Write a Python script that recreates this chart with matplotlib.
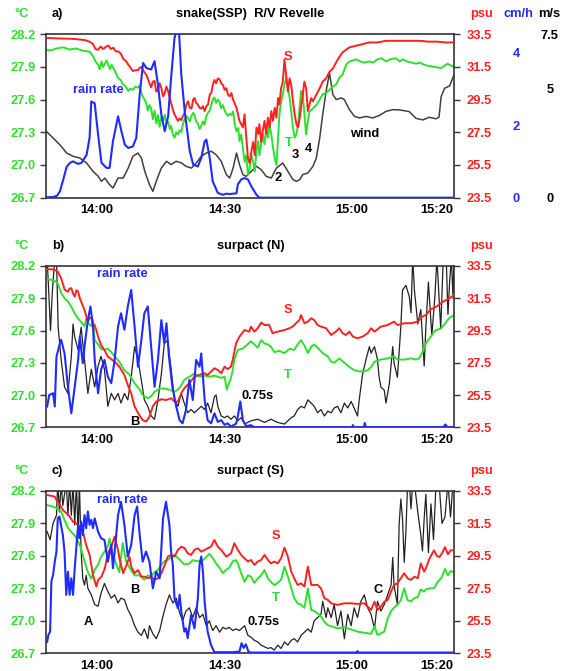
import matplotlib.pyplot as plt

plt.rcParams['font.family'] = ['Liberation Sans', 'DejaVu Sans']
plt.rcParams['font.weight'] = 'bold'
plt.rcParams['font.size'] = 9.3

# time axis in minutes after 13:00
tick_pos = [60, 90, 120, 140]
tick_lab = ["14:00", "14:30", "15:00", "15:20"]
hour_pos = [60, 120]

# ---------------- a) snake (SSP), R/V Revelle ----------------
a_T_t = [48.0, 49.0, 50.4, 52.0, 53.5, 55.0, 56.5, 58.2, 59.0, 59.6, 60.2, 60.6, 61.0, 61.4, 61.8,
         62.2, 62.6, 63.0, 63.4, 63.8, 64.2, 64.9, 65.5, 66.1, 66.7, 67.3, 67.8, 68.4, 69.0, 69.6,
         70.0, 70.4, 70.8, 71.2, 71.6, 71.9, 72.3, 72.7, 73.1, 73.5, 73.9, 74.3, 74.7, 75.1, 75.5,
         75.9, 76.3, 76.7, 77.1, 77.4, 77.8, 78.2, 78.6, 79.0, 79.4, 79.8, 80.2, 80.6, 81.0, 81.4,
         81.8, 82.2, 82.6, 82.9, 83.3, 83.7, 84.1, 84.5, 84.9, 85.3, 85.7, 86.1, 86.5, 86.9, 87.2,
         87.6, 88.0, 88.4, 88.8, 89.2, 89.6, 90.0, 90.4, 90.8, 91.2, 91.6, 92.0, 92.4, 92.8, 93.2,
         93.5, 93.9, 94.3, 94.7, 95.1, 95.5, 95.9, 96.3, 96.7, 97.1, 97.5, 97.9, 98.2, 98.6, 99.0,
         99.4, 99.8, 100.2, 100.6, 101.0, 101.4, 101.8, 102.2, 102.6, 102.9, 103.3, 103.7, 104.1,
         104.5, 104.9, 105.3, 105.7, 106.1, 106.5, 106.9, 107.3, 107.7, 108.0, 108.4, 108.8, 109.2,
         109.6, 110.0, 110.8, 111.6, 112.4, 113.1, 113.9, 114.7, 115.5, 116.3, 117.0, 117.8, 118.6,
         119.4, 120.2, 121.0, 122.0, 123.0, 124.1, 125.0, 126.0, 127.0, 128.0, 129.0, 130.4, 131.2,
         132.0, 133.0, 134.0, 135.1, 136.0, 137.0, 138.0, 139.5, 141.0, 142.5, 144.0]
a_T = [28.06, 28.05, 28.07, 28.08, 28.06, 28.07, 28.05, 28.04, 28.00, 27.95, 27.92, 27.88, 27.95, 27.90, 27.93,
       27.96, 27.92, 27.88, 27.92, 27.89, 27.86, 27.80, 27.78, 27.74, 27.72, 27.68, 27.70, 27.69, 27.72, 27.71,
       27.73, 27.66, 27.62, 27.60, 27.56, 27.50, 27.55, 27.52, 27.42, 27.50, 27.38, 27.46, 27.35, 27.44, 27.40,
       27.46, 27.38, 27.40, 27.33, 27.36, 27.28, 27.25, 27.30, 27.28, 27.32, 27.30, 27.38, 27.42, 27.45, 27.43,
       27.40, 27.45, 27.48, 27.46, 27.40, 27.38, 27.33, 27.36, 27.40, 27.37, 27.45, 27.48, 27.50, 27.56, 27.60,
       27.62, 27.57, 27.60, 27.58, 27.52, 27.55, 27.50, 27.47, 27.45, 27.47, 27.46, 27.49, 27.37, 27.31, 27.34,
       27.22, 27.28, 27.16, 27.03, 27.09, 26.91, 26.97, 27.09, 27.03, 26.94, 27.13, 27.22, 27.09, 27.19, 27.28,
       27.19, 27.34, 27.25, 27.37, 27.28, 27.16, 27.06, 27.00, 27.25, 27.46, 27.58, 27.65, 27.74,
       27.80, 27.71, 27.62, 27.49, 27.34, 27.25, 27.28, 27.37, 27.55, 27.68, 27.65, 27.46, 27.28,
       27.40, 27.49, 27.52, 27.55, 27.60, 27.65, 27.66, 27.69, 27.72, 27.74, 27.80, 27.83, 27.92,
       27.95, 27.96, 27.97, 27.95, 27.94, 27.95, 27.94, 27.97, 27.98, 27.95, 27.97, 27.98, 27.95,
       27.97, 27.95, 27.94, 27.93, 27.94, 27.92, 27.91, 27.90, 27.89, 27.93, 27.90]

a_S_t = [48.0, 50.4, 54.3, 57.0, 58.2, 59.0, 59.6, 60.2, 60.8, 61.4, 62.0, 62.6, 63.2, 63.8, 64.4,
         65.0, 65.6, 66.1, 66.8, 67.3, 68.0, 68.4, 69.0, 69.6, 70.0, 70.4, 70.8, 71.2, 71.6, 71.9,
         72.3, 72.7, 73.1, 73.5, 73.9, 74.3, 74.7, 75.1, 75.5, 75.9, 76.3, 76.7, 77.1, 77.4, 77.8,
         78.2, 78.6, 79.0, 79.4, 79.8, 80.2, 80.6, 81.0, 81.4, 81.8, 82.2, 82.6, 82.9, 83.3, 83.7,
         84.1, 84.5, 84.9, 85.3, 85.7, 86.1, 86.5, 86.9, 87.2, 87.6, 88.0, 88.4, 88.8, 89.2, 89.6,
         90.0, 90.4, 90.8, 91.2, 91.6, 92.0, 92.8, 93.5, 94.3, 94.7, 95.1, 95.5, 95.9, 96.3, 96.7,
         97.1, 97.5, 97.9, 98.2, 98.6, 99.0, 99.4, 99.8, 100.2, 100.6, 101.0, 101.4, 101.8, 102.2,
         102.6, 102.9, 103.3, 103.7, 104.1, 104.5, 104.9, 105.3, 105.7, 106.1, 106.5, 106.9, 107.3,
         107.7, 108.0, 108.4, 108.8, 109.2, 109.6, 110.0, 110.4, 110.8, 111.6, 112.4, 113.1, 113.9,
         114.7, 115.5, 116.3, 117.0, 117.8, 119.4, 121.0, 122.6, 124.1, 126.0, 128.0, 130.0, 132.0,
         134.0, 136.0, 138.0, 140.0, 142.0, 144.0]
a_S = [33.28, 33.25, 33.22, 33.15, 33.05, 32.90, 32.60, 32.55, 32.75, 32.60, 32.72, 32.82, 32.60, 32.68, 32.45,
       32.45, 32.30, 32.00, 31.85, 31.65, 31.40, 31.25, 31.30, 31.30, 31.45, 31.50, 31.30, 31.15, 31.00, 30.80,
       30.50, 30.25, 30.60, 30.65, 30.00, 30.10, 30.50, 30.20, 29.70, 29.90, 30.30, 30.00, 29.60, 29.30, 28.90,
       28.60, 28.40, 28.20, 28.35, 28.25, 28.50, 28.70, 29.20, 29.40, 29.00, 28.95, 29.50, 29.60, 29.30, 29.20,
       29.00, 28.95, 29.10, 28.80, 29.10, 29.20, 29.80, 29.95, 30.40, 30.70, 30.50, 30.80, 30.75, 30.50, 30.40,
       30.10, 30.20, 29.80, 29.70, 29.90, 29.50, 29.00, 28.20, 27.80, 28.60, 27.20, 25.90, 25.60, 26.30, 26.90,
       26.10, 27.80, 27.40, 28.00, 26.90, 27.60, 28.20, 27.40, 28.40, 27.80, 28.80, 28.20, 29.00, 28.40,
       29.60, 29.20, 30.20, 30.60, 31.95, 31.00, 30.00, 30.80, 30.40, 29.40, 28.60, 28.00, 27.80,
       28.40, 29.00, 29.80, 30.60, 30.20, 28.80, 29.20, 29.60, 29.40, 29.80, 30.20, 30.60, 30.80,
       31.20, 31.40, 31.80, 32.10, 32.40, 32.70, 32.80, 32.90, 33.00, 33.00, 33.10, 33.10, 33.10,
       33.10, 33.10, 33.05, 33.05, 33.00, 33.00]

a_rain_t = [48.0, 49.6, 50.5, 51.2, 52.0, 52.8, 53.6, 54.3, 55.5, 56.3, 57.5, 58.2, 58.6, 59.4, 60.2,
            61.0, 62.2, 62.9, 63.7, 64.9, 65.7, 66.5, 67.3, 68.4, 69.2, 70.0, 70.8, 71.6, 72.7, 73.5,
            74.3, 75.1, 75.9, 76.7, 77.4, 78.2, 78.8, 79.3, 79.8, 80.6, 81.8, 82.6, 83.7, 84.5, 85.3,
            85.7, 86.5, 87.2, 88.4, 89.6, 90.4, 91.2, 92.8, 93.1, 93.9, 94.7, 95.5, 96.3, 97.5, 98.2,
            144.0]
a_rain = [0.01, 0.02, 0.05, 0.17, 0.50, 0.85, 0.96, 1.00, 0.93, 0.96, 1.18, 1.65, 2.65, 2.60, 1.74,
          0.96, 0.82, 0.82, 1.55, 2.24, 1.83, 1.46, 1.37, 1.41, 1.65, 2.84, 3.71, 3.57, 3.53, 3.76,
          3.11, 2.29, 1.83, 2.24, 3.30, 4.40, 4.65, 4.49, 3.39, 2.38, 1.28, 0.91, 0.86, 1.09, 1.55,
          1.60, 1.09, 0.45, 0.13, 0.08, 0.11, 0.10, 0.12, 0.36, 0.50, 0.54, 0.50, 0.31, 0.08, 0.00,
          0.00]

a_wind_t = [48.0, 49.6, 51.2, 52.8, 54.3, 55.9, 57.5, 59.0, 60.2, 61.0, 61.8, 62.9, 63.7, 64.9, 66.1,
            67.3, 68.4, 69.6, 70.4, 71.2, 72.3, 73.1, 73.9, 75.1, 76.3, 77.4, 78.6, 79.8, 80.9, 82.2,
            83.3, 84.5, 85.7, 86.9, 88.0, 89.2, 90.4, 91.2, 92.0, 92.8, 93.5, 94.3, 95.1, 96.3, 97.5,
            98.6, 99.8, 101.0, 102.2, 103.7, 104.9, 106.1, 106.9, 107.7, 108.4, 109.6, 110.8, 111.6,
            112.4, 113.1, 113.9, 114.7, 115.5, 116.3, 117.5, 118.2, 119.4, 120.6, 121.8, 123.3, 124.9,
            126.5, 128.0, 129.6, 131.2, 133.5, 135.1, 136.7, 138.2, 139.8, 140.5, 141.0, 141.8, 143.0,
            144.0]
a_wind = [3.05, 2.74, 2.43, 2.05, 1.90, 1.82, 1.59, 1.21, 0.99, 0.75, 0.90, 0.60, 0.44, 0.90, 0.90,
          1.36, 1.90, 2.05, 1.82, 1.21, 0.60, 0.29, 0.75, 1.36, 1.67, 1.52, 1.67, 1.60, 1.44, 1.36,
          1.59, 1.90, 2.05, 2.13, 1.97, 1.67, 1.06, 0.90, 1.36, 2.05, 1.52, 1.06, 0.98, 1.21, 1.44,
          1.29, 0.98, 0.90, 1.36, 1.59, 1.21, 0.83, 0.75, 0.83, 1.06, 1.13, 1.44, 1.82,
          2.74, 3.81, 4.88, 5.72, 4.73, 4.50, 4.58, 4.50, 4.04, 3.73, 3.66, 3.73, 3.66,
          3.78, 3.96, 4.04, 4.03, 3.95, 3.64, 3.57, 3.69, 3.62, 3.70, 4.64, 5.02, 5.13,
          5.63]

# ---------------- b) surpact (N) ----------------
b_T_t = [48.2, 49.2, 50.0, 50.7, 51.5, 52.3, 53.1, 53.9, 54.7, 55.5, 56.2, 57.0, 57.4, 57.8, 58.6,
         59.0, 59.4, 60.2, 60.9, 61.7, 62.5, 63.3, 64.1, 65.2, 66.4, 67.6, 68.8, 70.0, 70.7, 71.9,
         72.7, 73.5, 74.7, 75.8, 77.0, 78.2, 79.0, 79.8, 80.5, 81.7, 82.9, 84.1, 85.3, 86.4, 87.6,
         88.4, 89.2, 90.0, 90.5, 91.5, 91.9, 92.3, 93.1, 94.2, 95.4, 96.2, 97.0, 97.8, 98.6, 99.4,
         100.2, 100.9, 101.7, 102.9, 104.1, 105.3, 106.4, 107.2, 108.0, 108.8, 109.6, 110.4, 111.1,
         111.9, 113.1, 114.3, 115.1, 115.8, 117.0, 118.2, 119.4, 120.6, 121.7, 122.9, 123.7, 124.5,
         125.3, 126.8, 128.4, 129.9, 130.7, 132.3, 133.9, 135.1, 135.8, 136.6, 137.4, 139.6, 141.0,
         142.2, 143.0, 144.0]
b_T = [28.08, 28.07, 28.06, 28.04, 27.95, 27.90, 27.87, 27.82, 27.76, 27.71, 27.68, 27.64, 27.71, 27.67, 27.64,
       27.70, 27.51, 27.47, 27.43, 27.42, 27.43, 27.40, 27.36, 27.31, 27.23, 27.19, 27.11, 27.05, 27.00, 26.97,
       26.99, 27.03, 27.06, 27.06, 27.05, 27.03, 27.05, 27.09, 27.14, 27.17, 27.20, 27.17, 27.18, 27.17, 27.18,
       27.17, 27.16, 27.17, 27.05, 27.16, 27.23, 27.33, 27.42, 27.43, 27.47, 27.50, 27.47, 27.44, 27.51, 27.48,
       27.47, 27.45, 27.40, 27.41, 27.39, 27.43, 27.42, 27.47, 27.51, 27.46, 27.39, 27.45, 27.47,
       27.44, 27.39, 27.36, 27.31, 27.30, 27.34, 27.30, 27.26, 27.23, 27.22, 27.22, 27.23, 27.26,
       27.31, 27.33, 27.34, 27.36, 27.33, 27.33, 27.34, 27.33, 27.34, 27.40, 27.48, 27.60, 27.62,
       27.68, 27.72, 27.74]

b_S_t = [48.2, 49.2, 50.0, 50.7, 51.5, 52.3, 53.1, 53.5, 53.9, 54.3, 54.7, 55.1, 55.5, 55.9, 56.2,
         57.0, 57.8, 58.2, 58.6, 59.0, 59.4, 59.8, 60.2, 60.9, 61.7, 62.5, 64.1, 65.2, 66.4, 67.2,
         68.0, 68.8, 69.9, 70.7, 71.5, 72.3, 73.1, 73.9, 75.1, 76.2, 77.4, 78.2, 79.0, 79.8, 80.5,
         81.7, 82.9, 84.0, 85.3, 86.0, 86.8, 87.6, 88.4, 89.2, 90.0, 90.7, 91.5, 91.9, 92.7, 93.5,
         94.7, 95.8, 96.2, 97.0, 97.8, 98.6, 99.4, 100.5, 101.3, 102.5, 104.1, 105.3, 106.0, 106.8,
         107.6, 108.0, 108.8, 109.6, 110.4, 111.1, 111.9, 112.7, 113.9, 115.1, 116.2, 117.0, 117.8,
         118.6, 119.4, 120.2, 121.3, 122.5, 123.7, 124.5, 125.3, 126.8, 128.4, 129.9, 130.7, 132.3,
         133.9, 135.5, 136.6, 137.4, 138.5, 140.0, 141.5, 143.0, 144.0]
b_S = [33.30, 33.30, 33.25, 33.15, 32.74, 32.05, 31.90, 32.10, 32.12, 31.80, 31.60, 32.00, 31.91, 31.50, 31.30,
       30.77, 30.05, 30.30, 30.26, 29.90, 29.84, 29.50, 29.12, 28.60, 28.29, 27.88, 27.57, 27.26, 26.74, 26.12,
       25.61, 24.78, 24.26, 23.95, 23.85, 24.16, 24.80, 25.09, 25.24, 25.19, 25.30, 25.09, 25.09, 25.61, 25.92,
       26.23, 26.64, 26.74, 26.85, 26.74, 26.95, 27.16, 27.05, 26.85, 27.26, 27.10, 27.26, 27.67, 28.71, 29.12,
       29.53, 29.43, 29.74, 29.43, 29.64, 29.99, 29.84, 29.84, 29.33, 29.43, 29.53, 29.64, 29.74, 29.95,
       30.15, 30.46, 29.95, 30.05, 30.26, 30.15, 29.84, 29.74, 29.64, 29.22, 29.43, 29.64, 29.33,
       29.22, 29.43, 29.12, 29.02, 29.12, 29.33, 29.64, 29.43, 29.74, 29.84, 30.05, 29.84, 29.95,
       29.95, 30.05, 30.36, 30.46, 30.80, 31.00, 31.30, 31.50, 31.70]

b_rain_t = [48.2, 48.7, 49.6, 50.0, 50.4, 51.2, 51.5, 52.3, 53.1, 53.9, 54.7, 55.5, 55.9, 56.6, 57.0,
            57.8, 58.4, 59.0, 59.4, 60.2, 60.9, 61.7, 62.5, 63.3, 64.1, 64.9, 65.6, 66.4, 67.2, 68.0,
            68.8, 69.6, 70.4, 71.1, 71.9, 72.7, 73.5, 74.3, 75.1, 75.8, 76.3, 76.9, 77.7, 78.6, 79.4,
            80.1, 80.9, 81.7, 82.5, 83.3, 84.1, 84.5, 85.3, 86.0, 86.8, 87.6, 88.4, 89.2, 90.0, 90.7,
            91.5, 92.7, 93.1, 93.7, 94.3, 95.1, 96.2, 97.0, 120.0, 120.2, 120.5, 122.8, 123.0, 123.3,
            141.5, 142.0, 142.5, 144.0]
b_rain = [0.58, 0.90, 0.95, 0.58, 1.97, 2.34, 2.44, 2.06, 1.13, 0.39, 1.13, 1.88, 2.53, 1.79, 2.25,
          2.99, 3.37, 2.81, 1.88, 0.95, 1.60, 1.88, 1.41, 1.23, 1.88, 2.81, 3.18, 2.72, 3.37, 3.83,
          2.81, 1.69, 2.44, 3.18, 3.37, 2.25, 1.13, 1.88, 2.99, 2.34, 2.90, 1.97, 1.13, 0.58, 0.20,
          0.11, 0.48, 1.32, 0.76, 1.88, 1.69, 2.06, 0.76, 0.20, 0.11, 0.39, 0.15, 0.20, 0.07, 0.11,
          0.02, 0.10, 0.30, 0.72, 0.20, 0.03, 0.06, 0.00, 0.00, 0.06, 0.00, 0.00, 0.12, 0.00,
          0.00, 0.08, 0.00, 0.00]

# 0.75 s series, relative units (no axis drawn)
b_sig_t = [48.2, 48.6, 49.0, 49.4, 50.0, 50.4, 50.8, 51.5, 52.3, 53.1, 53.9, 54.3, 54.7, 55.5, 56.2,
           57.0, 57.8, 58.6, 59.4, 60.2, 60.9, 61.7, 62.5, 63.3, 64.1, 64.9, 65.6, 66.4, 67.2, 68.0,
           68.8, 69.6, 70.4, 71.1, 71.9, 72.7, 73.5, 74.3, 75.1, 75.8, 76.6, 77.4, 78.2, 79.0, 79.8,
           80.5, 81.3, 82.1, 82.9, 83.7, 84.5, 85.3, 86.0, 86.8, 87.6, 88.0, 88.4, 89.2, 90.0, 90.7,
           91.5, 92.3, 93.1, 93.9, 94.7, 96.2, 97.8, 99.4, 100.9, 102.5, 104.1, 105.7, 106.4, 107.2,
           108.0, 108.8, 109.6, 110.4, 111.1, 111.9, 112.7, 113.5, 114.3, 115.1, 115.8, 116.6, 117.4,
           118.2, 119.0, 119.8, 120.5, 121.3, 121.7, 122.5, 123.3, 124.1, 124.5, 125.3, 126.0, 126.4,
           126.8, 127.6, 128.0, 128.8, 129.6, 129.9, 130.7, 131.5, 131.9, 132.7, 133.5, 133.9, 134.3,
           134.7, 135.5, 136.2, 137.0, 137.4, 138.0, 138.8, 139.5, 140.0, 140.6, 140.9, 141.5, 142.2,
           142.6, 143.0, 143.4, 143.8, 144.0]
b_sig = [1.05, 0.83, 0.60, 0.83, 1.05, 1.05, 0.62, 0.42, 0.25, 0.21, 0.44, 0.64, 0.56, 0.48, 0.62,
         0.42, 0.21, 0.36, 0.25, 0.38, 0.44, 0.36, 0.13, 0.21, 0.17, 0.21, 0.15, 0.21, 0.17, 0.31,
         0.50, 0.42, 0.29, 0.17, 0.13, 0.07, 0.05, 0.17, 0.33, 0.52, 0.54, 0.36, 0.17, 0.13, 0.21,
         0.15, 0.09, 0.11, 0.09, 0.11, 0.13, 0.11, 0.15, 0.09, 0.19, 0.20, 0.13, 0.07, 0.06, 0.07,
         0.05, 0.07, 0.04, 0.06, 0.02, 0.04, 0.05, 0.03, 0.05, 0.03, 0.02, 0.06, 0.07, 0.11,
         0.13, 0.12, 0.17, 0.15, 0.13, 0.09, 0.11, 0.07, 0.10, 0.09, 0.12, 0.13, 0.09,
         0.15, 0.12, 0.16, 0.12, 0.07, 0.17, 0.33, 0.42, 0.50, 0.46, 0.50, 0.42, 0.31,
         0.25, 0.23, 0.15, 0.27, 0.50, 0.40, 0.31, 0.62, 0.85, 0.88, 0.81, 0.71, 1.05,
         0.85, 0.64, 0.73, 0.38, 0.62, 0.90, 0.57, 0.80, 1.05, 0.75, 0.61, 1.05, 1.05,
         0.70, 0.90, 1.05, 0.80, 1.05]

# ---------------- c) surpact (S) ----------------
c_T_t = [48.2, 49.2, 50.0, 50.7, 51.5, 52.3, 53.1, 53.9, 54.7, 55.5, 56.2, 57.0, 57.8, 58.6, 59.4,
         60.2, 60.9, 61.7, 62.5, 62.9, 63.7, 64.5, 65.2, 66.0, 66.8, 67.6, 68.8, 69.9, 71.1, 71.9,
         72.7, 73.5, 74.3, 75.1, 75.8, 76.6, 77.4, 78.2, 79.0, 79.8, 80.5, 81.7, 82.5, 83.7, 84.9,
         85.7, 86.4, 87.2, 88.0, 88.8, 89.6, 90.3, 91.1, 91.9, 92.7, 93.1, 93.9, 94.7, 95.5, 96.2,
         97.0, 97.8, 98.6, 99.4, 100.2, 100.9, 101.7, 102.5, 103.3, 104.1, 104.9, 105.7, 106.4,
         107.2, 108.0, 108.8, 109.6, 110.4, 111.1, 111.9, 112.7, 113.5, 114.3, 115.1, 116.6, 118.2,
         119.8, 121.3, 122.9, 124.5, 125.3, 126.0, 127.6, 128.4, 129.2, 129.9, 130.7, 131.5, 132.3,
         133.1, 133.9, 134.7, 135.5, 136.2, 137.0, 137.4, 138.2, 139.3, 140.2, 141.1, 141.9, 142.6,
         143.2, 144.0]
c_T = [28.07, 28.06, 28.05, 28.03, 28.01, 27.93, 27.86, 27.82, 27.79, 27.73, 27.67, 27.55, 27.45, 27.39, 27.47,
       27.52, 27.59, 27.64, 27.69, 27.76, 27.61, 27.52, 27.45, 27.72, 27.55, 27.49, 27.42, 27.42, 27.38, 27.42,
       27.41, 27.45, 27.47, 27.52, 27.55, 27.56, 27.59, 27.61, 27.58, 27.55, 27.52, 27.53, 27.56, 27.55, 27.56,
       27.59, 27.62, 27.58, 27.53, 27.49, 27.44, 27.47, 27.49, 27.55, 27.56, 27.53, 27.44, 27.36, 27.42, 27.41,
       27.35, 27.39, 27.42, 27.47, 27.39, 27.36, 27.33, 27.35, 27.38, 27.50, 27.41, 27.30, 27.21,
       27.16, 27.15, 27.12, 27.30, 27.10, 27.09, 27.07, 27.04, 26.99, 26.96, 26.95, 26.93, 26.94,
       26.92, 26.90, 26.89, 26.88, 26.95, 26.87, 26.90, 27.02, 27.09, 27.12, 27.15, 27.19, 27.30,
       27.19, 27.18, 27.21, 27.22, 27.29, 27.27, 27.29, 27.30, 27.30, 27.36, 27.40, 27.48, 27.42,
       27.46, 27.45]

c_S_t = [48.2, 49.2, 50.0, 50.4, 51.2, 52.0, 52.8, 53.5, 54.3, 55.1, 55.9, 56.6, 57.4, 58.2, 59.0,
         59.8, 60.2, 61.0, 61.8, 62.5, 63.3, 64.1, 64.9, 65.3, 66.1, 66.9, 67.6, 68.0, 68.8, 69.6,
         70.4, 71.2, 72.0, 72.7, 73.5, 74.3, 75.1, 75.9, 76.6, 77.4, 78.2, 79.0, 79.8, 80.6, 81.3,
         82.1, 82.9, 83.7, 84.5, 85.3, 86.0, 86.8, 87.6, 88.4, 89.2, 90.4, 91.5, 92.3, 93.1, 93.9,
         94.7, 95.5, 96.2, 97.0, 97.8, 98.6, 99.4, 100.2, 100.9, 101.7, 102.5, 103.3, 104.1, 104.9,
         105.7, 106.4, 107.2, 108.0, 108.8, 109.6, 110.4, 111.1, 111.9, 112.7, 113.5, 114.3, 115.1,
         116.6, 118.2, 119.8, 121.3, 122.9, 123.7, 124.5, 125.3, 126.0, 126.8, 127.6, 128.4, 129.2,
         129.9, 130.7, 131.5, 132.3, 133.1, 133.9, 134.7, 135.5, 136.2, 137.0, 137.4, 138.2, 139.3,
         140.0, 140.6, 141.3, 141.9, 142.6, 143.2, 144.0]
c_S = [33.25, 33.20, 33.15, 32.95, 32.64, 32.30, 32.12, 31.92, 31.60, 31.51, 31.20, 31.00, 30.17, 29.56, 28.33,
       27.61, 28.02, 28.22, 28.74, 29.66, 30.07, 30.69, 29.87, 29.25, 28.43, 28.94, 29.45, 28.84, 28.43, 28.63,
       28.22, 28.22, 28.12, 28.22, 28.02, 28.12, 28.43, 28.94, 29.45, 29.56, 29.45, 29.87, 30.07, 29.97, 29.66,
       29.56, 29.87, 29.97, 29.76, 29.87, 29.97, 30.07, 30.48, 30.07, 29.87, 29.45, 29.66, 30.28, 29.87, 29.56,
       29.35, 29.15, 29.25, 28.94, 29.15, 29.25, 29.56, 29.25, 29.04, 29.15, 29.04, 29.35, 30.01, 29.45,
       28.53, 28.12, 27.71, 27.81, 27.61, 28.84, 27.71, 27.71, 27.71, 27.50, 26.89, 26.79, 26.58,
       26.48, 26.58, 26.58, 26.54, 26.58, 26.37, 26.17, 26.68, 26.17, 26.37, 26.68, 26.79, 27.30,
       27.71, 27.81, 28.12, 28.43, 28.12, 28.02, 28.22, 28.12, 29.04, 28.53, 28.74, 29.30, 29.84,
       29.50, 29.43, 29.70, 30.04, 29.60, 29.84, 29.85]

c_rain_t = [48.2, 48.5, 48.9, 49.2, 49.6, 50.0, 50.4, 50.7, 51.1, 51.9, 52.3, 52.7, 53.1, 53.5, 53.9,
            54.3, 54.7, 55.5, 55.8, 56.2, 56.6, 57.0, 57.4, 57.8, 58.2, 58.6, 59.0, 59.4, 60.2, 60.9,
            61.7, 62.5, 63.3, 63.7, 64.1, 64.9, 65.6, 66.4, 67.2, 68.0, 68.8, 69.4, 70.0, 70.7, 71.5,
            72.3, 73.1, 73.9, 74.7, 75.5, 76.2, 77.0, 77.4, 77.8, 78.2, 79.0, 79.4, 79.8, 80.5, 80.9,
            81.3, 82.1, 82.9, 83.7, 84.1, 84.5, 84.9, 85.3, 86.0, 86.8, 87.6, 92.0, 93.5, 94.0, 94.5,
            95.0, 95.6, 96.2, 121.0, 121.3, 121.6, 144.0]
c_rain = [0.32, 0.51, 0.60, 1.99, 2.17, 2.54, 2.82, 3.74, 3.79, 3.28, 2.82, 1.62, 2.26, 1.62, 2.08,
          1.62, 2.36, 3.56, 3.19, 3.65, 3.28, 3.83, 3.47, 3.93, 3.56, 3.70, 3.47, 3.74, 3.37, 3.19,
          3.14, 2.54, 3.00, 2.36, 2.82, 3.83, 4.20, 3.56, 2.68, 3.00, 3.83, 4.07, 3.28, 2.54, 2.82,
          2.54, 1.80, 2.26, 2.08, 3.74, 4.20, 3.56, 2.82, 2.45, 1.52, 1.25, 1.62, 1.16, 0.60, 0.69,
          0.42, 1.06, 0.69, 1.52, 2.45, 2.68, 2.26, 1.43, 0.60, 0.23, 0.03, 0.03, 0.05, 0.28, 0.15,
          0.25, 0.05, 0.02, 0.02, 0.06, 0.02, 0.02]

c_sig_t = [48.2, 48.9, 49.6, 50.4, 50.7, 51.1, 51.5, 51.9, 52.7, 53.1, 53.5, 53.9, 54.3, 54.7, 55.1,
           55.5, 55.8, 56.2, 56.6, 57.0, 57.4, 57.8, 58.6, 59.4, 60.2, 60.9, 61.7, 62.5, 63.3, 64.1,
           64.9, 65.6, 66.4, 67.2, 68.0, 68.8, 69.6, 70.4, 71.1, 71.9, 72.3, 73.1, 73.9, 74.7, 75.5,
           76.2, 77.0, 77.8, 78.6, 79.4, 80.1, 80.9, 81.7, 82.5, 83.3, 84.1, 84.9, 85.7, 86.4, 87.2,
           88.0, 88.8, 89.6, 90.3, 91.1, 91.9, 92.7, 93.5, 94.7, 95.5, 96.2, 97.0, 97.8, 98.6, 99.4,
           100.2, 100.9, 101.7, 102.5, 103.3, 104.1, 104.9, 105.7, 106.4, 107.2, 108.0, 108.8, 109.6,
           110.4, 111.1, 111.9, 112.7, 113.1, 113.9, 114.3, 115.1, 115.8, 116.6, 117.4, 118.2, 119.0,
           119.8, 120.5, 121.3, 122.1, 122.9, 123.7, 124.5, 125.3, 126.0, 126.8, 127.6, 128.4, 129.2,
           129.6, 129.9, 130.7, 131.1, 131.5, 131.9, 132.3, 132.7, 133.1, 133.5, 133.9, 134.3, 134.7,
           135.5, 136.2, 136.6, 137.0, 137.4, 138.0, 138.6, 139.2, 139.8, 140.5, 141.2, 141.9, 142.6,
           143.2, 143.8, 144.0]
c_sig = [0.75, 0.70, 0.80, 0.85, 1.05, 0.87, 1.05, 0.91, 1.05, 0.85, 1.05, 0.85, 1.05, 0.79, 1.05,
         0.73, 1.05, 0.63, 0.46, 0.42, 0.48, 0.40, 0.36, 0.30, 0.29, 0.37, 0.43, 0.38, 0.34, 0.36,
         0.31, 0.34, 0.33, 0.27, 0.23, 0.17, 0.13, 0.11, 0.15, 0.09, 0.17, 0.12, 0.09, 0.14, 0.23,
         0.30, 0.36, 0.31, 0.34, 0.25, 0.20, 0.26, 0.28, 0.22, 0.28, 0.22, 0.24, 0.17, 0.20, 0.14,
         0.17, 0.13, 0.16, 0.15, 0.16, 0.14, 0.15, 0.14, 0.17, 0.11, 0.10, 0.08, 0.07, 0.05, 0.04,
         0.03, 0.035, 0.02, 0.05, 0.03, 0.07, 0.05, 0.08, 0.09, 0.07, 0.11, 0.13, 0.15,
         0.13, 0.20, 0.22, 0.24, 0.32, 0.22, 0.28, 0.22, 0.30, 0.17, 0.26, 0.09, 0.24,
         0.17, 0.28, 0.22, 0.32, 0.36, 0.28, 0.24, 0.15, 0.32, 0.26, 0.30, 0.36, 0.42,
         0.59, 0.42, 0.30, 0.79, 0.95, 0.83, 0.56, 0.75, 1.05, 1.05, 0.89, 1.05, 1.05,
         0.87, 0.73, 0.63, 0.83, 0.98, 0.62, 0.92, 0.70, 1.05, 1.05, 0.80, 0.84, 1.05,
         0.84, 1.05, 1.05]

T_ticks = [26.7, 27.0, 27.3, 27.6, 27.9, 28.2]
S_ticks = [23.5, 25.5, 27.5, 29.5, 31.5, 33.5]

GREEN = '#2ee02e'
RED = '#ff2020'
BLUE = '#1f2bff'
FRAME = '#333333'

W, H = 563, 671
fig = plt.figure(figsize=(W / 100, H / 100), dpi=100, facecolor='white')


def make_panel(rect):
    ax = fig.add_axes(rect)
    ax.patch.set_visible(False)
    ax_k = ax.twinx()   # wind / 0.75s
    ax_s = ax.twinx()   # salinity
    ax_r = ax.twinx()   # rain rate
    ax_k.set_zorder(1)
    ax.set_zorder(2)
    ax_s.set_zorder(3)
    ax_r.set_zorder(4)
    for a in (ax_k, ax_s, ax_r):
        for sp in a.spines.values():
            sp.set_visible(False)
    for sp in ax.spines.values():
        sp.set_color(FRAME)
        sp.set_linewidth(1.2)

    ax.set_xlim(48, 144)
    ax.set_ylim(26.7, 28.2)
    ax.set_yticks(T_ticks)
    ax.set_yticklabels([f"{v:.1f}" for v in T_ticks])
    ax.tick_params(axis='y', direction='out', length=4, width=1, color=FRAME,
                   labelcolor=GREEN, pad=3.5)
    ax.set_xticks(tick_pos)
    ax.set_xticklabels(tick_lab)
    ax.set_xticks(hour_pos, minor=True)
    ax.tick_params(axis='x', which='major', length=0, pad=4.5, labelcolor='black')
    ax.tick_params(axis='x', which='minor', direction='out', length=3.5, width=1,
                   color=FRAME, top=True, bottom=True)

    ax_s.set_ylim(23.5, 33.5)
    ax_s.set_yticks(S_ticks)
    ax_s.set_yticklabels([f"{v:.1f}" for v in S_ticks])
    ax_s.tick_params(axis='y', direction='out', length=4, width=1, color=FRAME,
                     labelcolor=RED, pad=5)
    return ax, ax_k, ax_s, ax_r


def header(y, letter, title, extra=False):
    fy = 1 - y / H
    fig.text(21.7 / W, fy, "°C", color=GREEN, ha='center', va='center')
    fig.text(52 / W, fy, letter, color='black', ha='left', va='center')
    fig.text(250.5 / W, fy, title, color='black', ha='center', va='center')
    fig.text(482 / W, fy, "psu", color=RED, ha='center', va='center')
    if extra:
        fig.text(518 / W, fy, "cm/h", color=BLUE, ha='center', va='center')
        fig.text(549 / W, fy, "m/s", color='black', ha='center', va='center')


def centre_labels(a, offset_px, ticks, labels, color):
    a.spines['right'].set_position(('outward', offset_px * 0.72))
    a.set_yticks(ticks)
    a.set_yticklabels(labels)
    a.tick_params(axis='y', length=0, pad=0, labelcolor=color)
    for tk in a.yaxis.get_major_ticks():
        tk.label2.set_horizontalalignment('center')


# ---- panel a ----
ax, ax_k, ax_s, ax_r = make_panel([0.0822, 0.7054, 0.724, 0.2435])
ax_k.plot(a_wind_t, a_wind, color='#404040', lw=1.1)
ax.plot(a_T_t, a_T, color=GREEN, lw=1.4)
ax_s.plot(a_S_t, a_S, color=RED, lw=1.4)
ax_r.plot(a_rain_t, a_rain, color=BLUE, lw=1.5)
ax_k.set_ylim(0, 7.5)
ax_r.set_ylim(0, 4.5)
centre_labels(ax_r, 62, [0, 2, 4], ["0", "2", "4"], BLUE)
centre_labels(ax_k, 96, [0, 5, 7.5], ["0", "5", "7.5"], 'black')
header(14, "a)", "snake(SSP)  R/V Revelle", extra=True)
ax_r.text(0.127, 0.66, "rain rate", color=BLUE, transform=ax_r.transAxes, ha='center', va='center')
ax_r.text(0.594, 0.86, "S", color=RED, transform=ax_r.transAxes, ha='center', va='center')
ax_r.text(0.596, 0.335, "T", color=GREEN, transform=ax_r.transAxes, ha='center', va='center')
ax_r.text(0.78, 0.39, "wind", color='black', transform=ax_r.transAxes, ha='center', va='center')
ax_r.text(0.57, 0.12, "2", color='black', transform=ax_r.transAxes, ha='center', va='center')
ax_r.text(0.612, 0.26, "3", color='black', transform=ax_r.transAxes, ha='center', va='center')
ax_r.text(0.643, 0.30, "4", color='black', transform=ax_r.transAxes, ha='center', va='center')

# ---- panel b ----
ax, ax_k, ax_s, ax_r = make_panel([0.0822, 0.3632, 0.724, 0.2404])
ax_k.plot(b_sig_t, b_sig, color='#222222', lw=0.9)
ax.plot(b_T_t, b_T, color=GREEN, lw=1.4)
ax_s.plot(b_S_t, b_S, color=RED, lw=1.4)
ax_r.plot(b_rain_t, b_rain, color=BLUE, lw=1.5)
ax_k.set_ylim(0, 1)
ax_r.set_ylim(0, 4.5)
ax_k.yaxis.set_visible(False)
ax_r.yaxis.set_visible(False)
header(246, "b)", "surpact (N)")
ax_r.text(0.186, 0.95, "rain rate", color=BLUE, transform=ax_r.transAxes, ha='center', va='center')
ax_r.text(0.593, 0.73, "S", color=RED, transform=ax_r.transAxes, ha='center', va='center')
ax_r.text(0.593, 0.324, "T", color=GREEN, transform=ax_r.transAxes, ha='center', va='center')
ax_r.text(0.518, 0.194, "0.75s", color='black', transform=ax_r.transAxes, ha='center', va='center')
ax_r.text(0.217, 0.03, "B", color='black', transform=ax_r.transAxes, ha='center', va='center')

# ---- panel c ----
ax, ax_k, ax_s, ax_r = make_panel([0.0822, 0.0264, 0.724, 0.2419])
ax_k.plot(c_sig_t, c_sig, color='#222222', lw=0.9)
ax.plot(c_T_t, c_T, color=GREEN, lw=1.4)
ax_s.plot(c_S_t, c_S, color=RED, lw=1.4)
ax_r.plot(c_rain_t, c_rain, color=BLUE, lw=1.5)
ax_k.set_ylim(0, 1)
ax_r.set_ylim(0, 4.5)
ax_k.yaxis.set_visible(False)
ax_r.yaxis.set_visible(False)
header(471, "c)", "surpact (S)")
ax_r.text(0.186, 0.945, "rain rate", color=BLUE, transform=ax_r.transAxes, ha='center', va='center')
ax_r.text(0.563, 0.725, "S", color=RED, transform=ax_r.transAxes, ha='center', va='center')
ax_r.text(0.563, 0.339, "T", color=GREEN, transform=ax_r.transAxes, ha='center', va='center')
ax_r.text(0.534, 0.195, "0.75s", color='black', transform=ax_r.transAxes, ha='center', va='center')
ax_r.text(0.217, 0.39, "B", color='black', transform=ax_r.transAxes, ha='center', va='center')
ax_r.text(0.104, 0.195, "A", color='black', transform=ax_r.transAxes, ha='center', va='center')
ax_r.text(0.813, 0.39, "C", color='black', transform=ax_r.transAxes, ha='center', va='center')

fig.savefig("out.png", dpi=100)
